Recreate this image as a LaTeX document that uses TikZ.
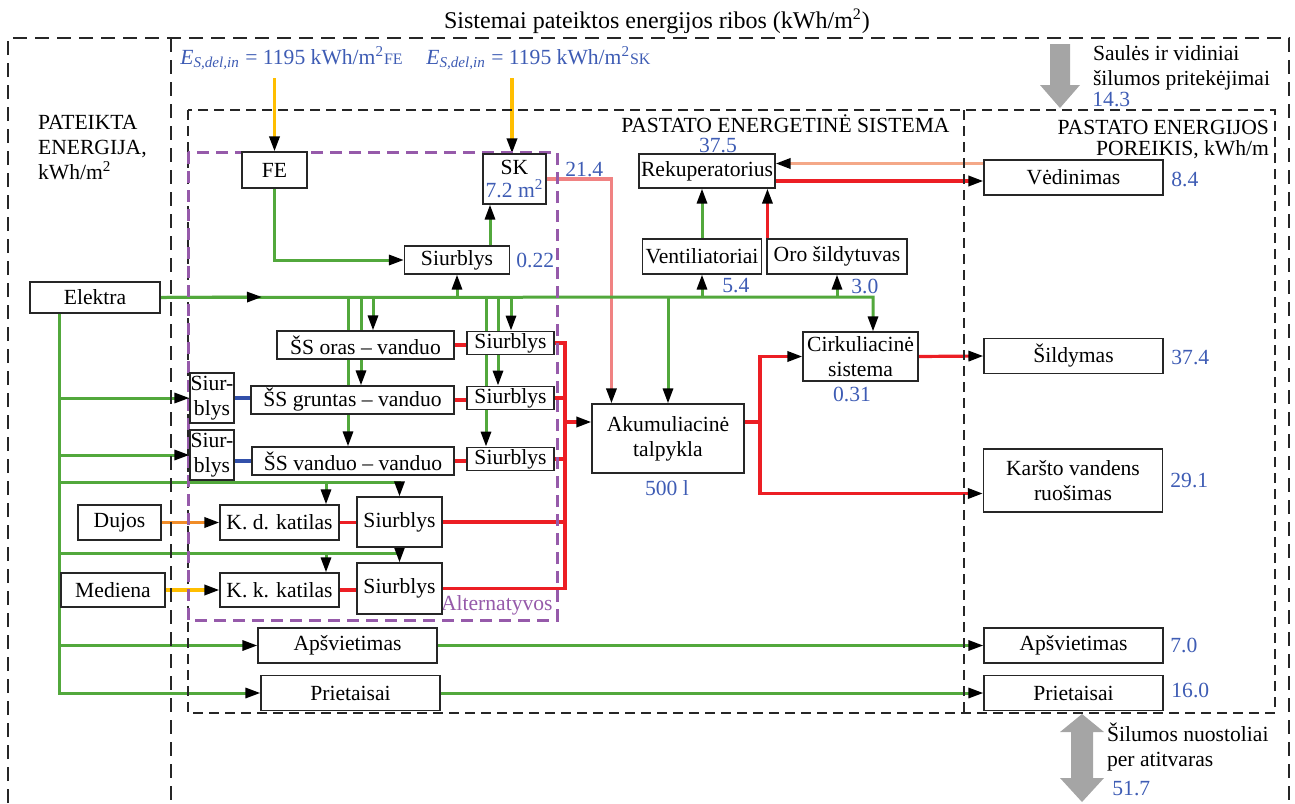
\documentclass[tikz,border=0pt]{standalone}
\usepackage{fontspec}
\setmainfont{Liberation Serif}
\usetikzlibrary{positioning, calc, arrows.meta, backgrounds}

\definecolor{elgreen}{RGB}{82,168,60}
\definecolor{heatred}{RGB}{236,30,36}
\definecolor{solarpink}{RGB}{240,130,130}
\definecolor{airsalmon}{RGB}{244,168,136}
\definecolor{gasorange}{RGB}{240,140,40}
\definecolor{fuelyellow}{RGB}{255,190,0}
\definecolor{valblue}{RGB}{62,92,180}
\definecolor{brineblue}{RGB}{50,80,170}
\definecolor{altpurple}{RGB}{150,90,170}
\definecolor{gaingray}{RGB}{165,165,165}

\tikzset{
  box/.style={draw=black!85, fill=white, line width=0.55pt, inner sep=1pt, align=center},
  demand/.style={box, minimum width=89.5pt, minimum height=17.5pt},
  pump/.style={box, minimum width=43.5pt, minimum height=11pt},
  hpump/.style={box, minimum height=14pt},
  tip/.style={-{Triangle[black, length=7.5pt, width=5pt]}},
  gline/.style={draw=elgreen, line width=1.5pt},
  hline/.style={draw=heatred, line width=1.6pt},
  pline/.style={draw=solarpink, line width=1.6pt},
  sline/.style={draw=airsalmon, line width=1.6pt},
  oline/.style={draw=gasorange, line width=1.6pt},
  yline/.style={draw=fuelyellow, line width=1.6pt},
  bline/.style={draw=brineblue, line width=1.6pt},
  val/.style={text=valblue, inner sep=0pt},
  zone/.style={draw=black!85, line width=0.6pt, dash pattern=on 7pt off 4pt},
  bzone/.style={draw=black!85, line width=0.6pt, dash pattern=on 5pt off 3pt},
  altzone/.style={draw=altpurple, line width=1.5pt, dash pattern=on 6pt off 3.5pt},
}

\begin{document}
\begin{tikzpicture}[x=0.5pt, y=-0.5pt, font=\fontsize{10.8}{12.5}\selectfont]
  \useasboundingbox (0,0) rectangle (1295,803);

  % boundaries
  \draw[zone] (8,803) -- (8,38) -- (1289,38) -- (1289,803);
  \draw[zone] (171,38) -- (171,803);
  \draw[bzone] (188,110) rectangle (1275,713);
  \draw[bzone] (964,110) -- (964,713);
  \draw[altzone] (188,152) rectangle (557,620);

  % heat gains and losses
  \fill[gaingray] (1050,44) -- (1070,44) -- (1070,85) -- (1080,85) -- (1060,108) -- (1040,85) -- (1050,85) -- cycle;
  \fill[gaingray] (1082,714) -- (1104,732) -- (1093,732) -- (1093,778) -- (1104,778) -- (1082,802)
    -- (1060,778) -- (1071,778) -- (1071,732) -- (1060,732) -- cycle;

  % texts
  \node[font=\fontsize{12}{14}\selectfont] (title) at (657,21) {Sistemai pateiktos energijos ribos (kWh/m\textsuperscript{2})};
  \node[anchor=north west, align=left] (delivered) at (31,108) {PATEIKTA\\ENERGIJA,\\kWh/m\textsuperscript{2}};
  \node[val, anchor=west] (esfe) at (180,58) {\textit{E}\textsubscript{\textit{S,del,in}} = 1195 kWh/m\textsuperscript{2}{\footnotesize FE}};
  \node[val, anchor=west] (essk) at (426,58) {\textit{E}\textsubscript{\textit{S,del,in}} = 1195 kWh/m\textsuperscript{2}{\footnotesize SK}};
  \node[anchor=north west, align=left] (gains) at (1086,38) {Saulės ir vidiniai\\šilumos pritekėjimai};
  \node[val, anchor=west] at (1092,100) {14.3};
  \node[anchor=east, inner sep=1pt] (system) at (952,124) {PASTATO ENERGETINĖ SISTEMA};
  \node[anchor=north east, align=right] (needs) at (1276,113) {PASTATO ENERGIJOS\\[-2pt]POREIKIS, kWh/m};
  \node[anchor=north west, align=left] (losses) at (1100,716) {Šilumos nuostoliai\\per atitvaras};
  \node[val, anchor=west] at (1112,789) {51.7};
  \node[anchor=south east, text=altpurple, inner sep=1pt] (alt) at (555,618) {Alternatyvos};

  % sources and solar circuit
  \node[box, minimum width=65pt, minimum height=15.5pt] (el) at (95,297.5) {Elektra};
  \node[box, minimum width=32.5pt, minimum height=18pt] (fe) at (274.5,170) {FE};
  \node[box, minimum width=31.5pt, minimum height=25pt] (sk) at (514.5,179) {SK\\[-1pt]{\color{valblue}7.2 m\textsuperscript{2}}};
  \node[box, minimum width=52.5pt, minimum height=14pt] (spump) at (457,260) {Siurblys};
  \node[val, anchor=west] at (516,260) {0.22};
  \node[val, anchor=west] at (565,170) {21.4};

  % heat pumps
  \node[hpump, minimum width=88.5pt] (ssa) at (365.5,345) {ŠS oras – vanduo};
  \node[hpump, minimum width=101.5pt] (ssg) at (352.5,400) {ŠS gruntas – vanduo};
  \node[hpump, minimum width=101pt] (ssv) at (353,461) {ŠS vanduo – vanduo};
  \node[pump] (pmp1) at (510.5,343) {Siurblys};
  \node[pump] (pmp2) at (510.5,398) {Siurblys};
  \node[pump] (pmp3) at (510.5,459) {Siurblys};
  \node[box, minimum width=22pt, minimum height=25pt, inner sep=0.3pt] (sbl1) at (212,398) {Siur-\\blys};
  \node[box, minimum width=22pt, minimum height=25pt, inner sep=0.3pt] (sbl2) at (212,455) {Siur-\\blys};

  % boilers
  \node[box, minimum width=41.5pt, minimum height=17.5pt] (duj) at (119.5,522.5) {Dujos};
  \node[box, minimum width=59.5pt, minimum height=17.5pt] (kdk) at (279.5,522.5) {K. d. katilas};
  \node[box, minimum width=42.5pt, minimum height=25pt] (kdp) at (399.5,522) {Siurblys};
  \node[box, minimum width=52pt, minimum height=17pt] (med) at (113,590) {Mediena};
  \node[box, minimum width=59.5pt, minimum height=17pt] (kkk) at (279.5,590) {K. k. katilas};
  \node[box, minimum width=42.5pt, minimum height=25.5pt] (kkp) at (399.5,588.5) {Siurblys};

  % storage, distribution, ventilation
  \node[box, minimum width=76pt, minimum height=34.5pt] (akum) at (668,438.5) {Akumuliacinė\\talpykla};
  \node[val] at (667,488) {500 l};
  \node[box, minimum width=57.5pt, minimum height=24.5pt] (cirk) at (860.5,356.5) {Cirkuliacinė\\sistema};
  \node[val] at (852,394) {0.31};
  \node[box, minimum width=68pt, minimum height=17pt] (rek) at (707,171) {Rekuperatorius};
  \node[val] at (718,146) {37.5};
  \node[box, minimum width=59.5pt, minimum height=17.5pt] (vent) at (702,256.5) {Ventiliatoriai};
  \node[box, minimum width=70pt, minimum height=17.5pt] (oro) at (837,256.5) {Oro šildytuvas};
  \node[val, anchor=west] at (722,286) {5.4};
  \node[val, anchor=west] at (851,286) {3.0};
  \node[demand] (apL) at (347.5,645.5) {Apšvietimas};
  \node[demand] (prL) at (350.5,693) {Prietaisai};

  % demands
  \node[demand] (ved) at (1073.5,177.5) {Vėdinimas};
  \node[demand] (sild) at (1073.5,356) {Šildymas};
  \node[demand, minimum height=31.5pt] (kvr) at (1073,480.5) {Karšto vandens\\ruošimas};
  \node[demand] (apR) at (1073.5,645.5) {Apšvietimas};
  \node[demand] (prR) at (1073.5,693) {Prietaisai};
  \node[val, anchor=west] at (1171,179) {8.4};
  \node[val, anchor=west] at (1171,357) {37.4};
  \node[val, anchor=west] at (1170,480) {29.1};
  \node[val, anchor=west] at (1170,645) {7.0};
  \node[val, anchor=west] at (1171,690) {16.0};

  \begin{scope}[on background layer]
    % solar
    \coordinate (fesrc) at (274.5,78);
    \coordinate (sksrc) at (512,78);
    \coordinate (pu) at ($(spump.north)+(33,0)$);
    \coordinate (skin) at ($(akum.north west)+(20,0)$);
    \draw[yline, tip] (fesrc) -- (fesrc |- fe.north);
    \draw[yline, tip] (sksrc) -- (sksrc |- sk.north);
    \draw[gline, tip] (fe.south) |- (spump.west);
    \draw[gline, tip] (pu) -- (pu |- sk.south);
    \draw[pline, tip] (sk.east) -| (skin);

    % electricity bus
    \coordinate (busend) at (873,297);
    \coordinate (busmark) at (262,297);
    \draw[gline, tip] (el.east) -- (busend) -- (busend |- cirk.north);
    \draw[gline, tip] (el.east) -- (busmark);
    \draw[gline, tip] (spump.south |- busend) -- (spump.south);
    \draw[gline, tip] (vent.south |- busend) -- (vent.south);
    \draw[gline, tip] (oro.south |- busend) -- (oro.south);
    \draw[gline, tip] (akum.north |- busend) -- (akum.north);
    \foreach \x/\n in {373/ssa, 361/ssg, 348/ssv, 511/pmp1, 498/pmp2, 486/pmp3} {
      \coordinate (tap) at (\x,297);
      \draw[gline, tip] (tap) -- (tap |- \n.north);
    }

    % ventilation
    \coordinate (orotop) at ($(oro.north west)+(1,0)$);
    \coordinate (vedin) at ($(ved.west)+(0,-14)$);
    \coordinate (rekout) at ($(rek.east)+(0,10)$);
    \draw[gline, tip] (vent.north) -- (vent.north |- rek.south);
    \draw[hline, tip] (orotop) -- (orotop |- rek.south);
    \draw[sline, tip] (vedin) -- (vedin -| rek.east);
    \draw[hline, tip] (rekout) -- (rekout -| ved.west);

    % electricity to the left column
    \coordinate (eldrop) at ($(el.south west)+(30,0)$);
    \draw[gline, tip] (eldrop) |- (prL.west);
    \draw[gline, tip] (eldrop |- sbl1.west) -- (sbl1.west);
    \draw[gline, tip] (eldrop |- sbl2.west) -- (sbl2.west);
    \draw[gline, tip] (eldrop |- apL.west) -- (apL.west);
    \coordinate (gd) at (60,482);
    \coordinate (gk) at (326,482);
    \coordinate (wd) at (60,553);
    \coordinate (wk) at (326,553);
    \draw[gline, tip] (gd) -| (kdp.north);
    \draw[gline, tip] (gk) -- (gk |- kdk.north);
    \draw[gline, tip] (wd) -| (kkp.north);
    \draw[gline, tip] (wk) -- (wk |- kkk.north);

    % brine, fuels
    \draw[bline] (sbl1.east) -- (sbl1.east -| ssg.west);
    \draw[bline] (sbl2.east |- ssv.west) -- (ssv.west);
    \draw[oline, tip] (duj.east) -- (kdk.west);
    \draw[yline, tip] (med.east) -- (kkk.west);

    % heat collection
    \draw[hline] (ssa.east) -- (ssa.east -| pmp1.west);
    \draw[hline] (ssg.east) -- (ssg.east -| pmp2.west);
    \draw[hline] (ssv.east) -- (ssv.east -| pmp3.west);
    \draw[hline] (kdk.east) -- (kdk.east -| kdp.west);
    \draw[hline] (kkk.east) -- (kkk.east -| kkp.west);
    \coordinate (col) at (565,422);
    \draw[hline] (pmp1.east) -| (col |- kkp.east) -- (kkp.east);
    \foreach \n in {pmp2, pmp3, kdp}
      \draw[hline] (\n.east) -- (\n.east -| col);
    \draw[hline, tip] (col) -- (col -| akum.west);

    % heat distribution
    \coordinate (dist) at (760,422);
    \coordinate (dhwin) at ($(kvr.west)+(0,13)$);
    \draw[hline] (akum.east |- dist) -- (dist);
    \draw[hline, tip] (dist) |- (cirk.west);
    \draw[hline, tip] (dist) |- (dhwin);
    \draw[hline, tip] (cirk.east) -- (sild.west);

    % lighting and appliances
    \draw[gline, tip] (apL.east) -- (apR.west);
    \draw[gline, tip] (prL.east) -- (prR.west);
  \end{scope}
\end{tikzpicture}
\end{document}
